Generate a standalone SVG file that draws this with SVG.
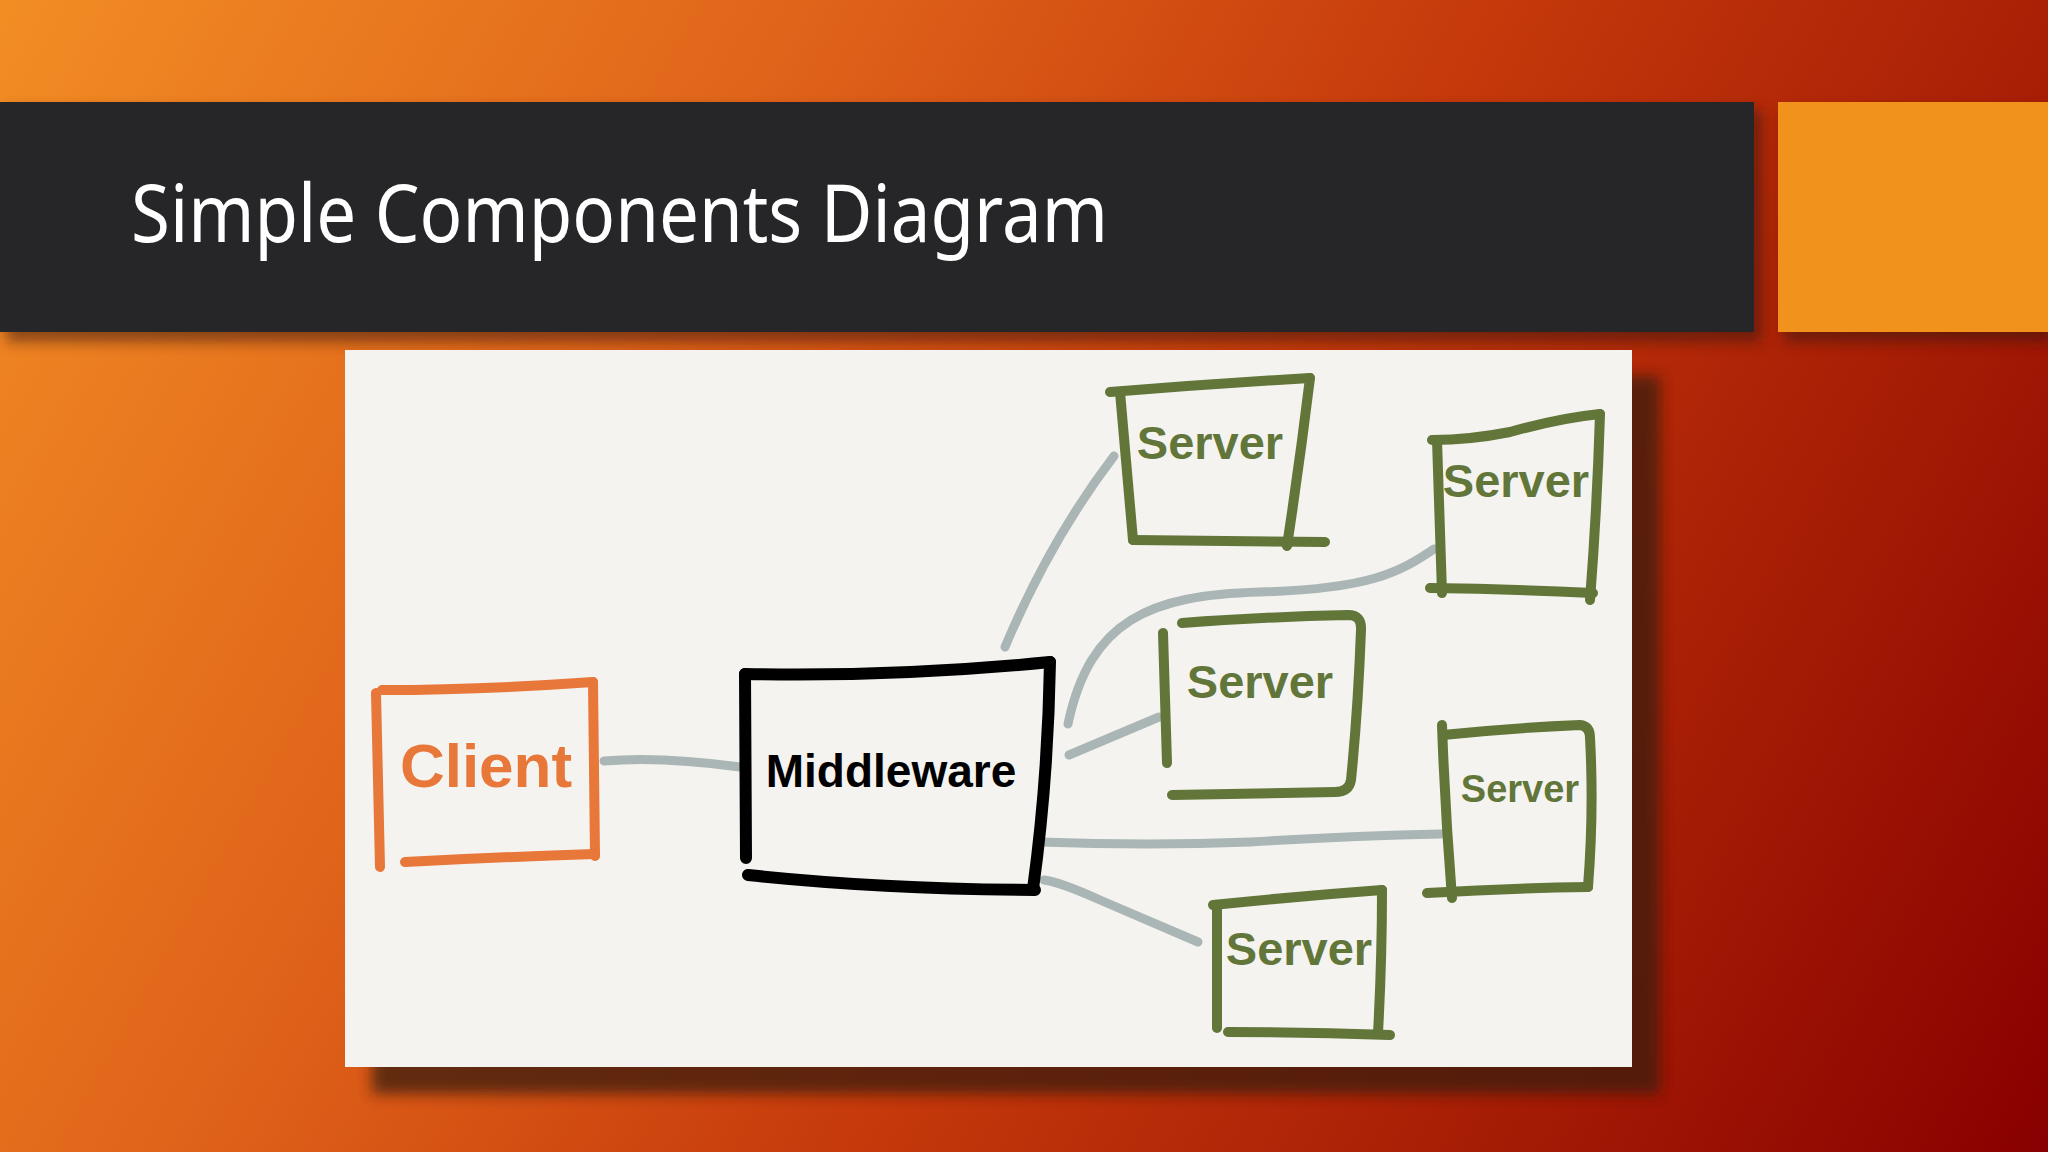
<svg xmlns="http://www.w3.org/2000/svg" width="2048" height="1152" viewBox="0 0 2048 1152">
  <defs>
    <linearGradient id="bg" gradientUnits="userSpaceOnUse" x1="0" y1="0" x2="2048" y2="1152">
      <stop offset="0" stop-color="#F28D24"/>
      <stop offset="0.3" stop-color="#E0641A"/>
      <stop offset="0.55" stop-color="#C63A0B"/>
      <stop offset="0.8" stop-color="#A41B05"/>
      <stop offset="1" stop-color="#880000"/>
    </linearGradient>
    <filter id="blur" x="-10%" y="-10%" width="120%" height="120%">
      <feGaussianBlur stdDeviation="7"/>
    </filter>
    <style>
      .box { fill: none; stroke-linecap: round; stroke-linejoin: round; }
      .srv { stroke: #62763A; stroke-width: 10; }
      .cli { stroke: #E8773A; stroke-width: 10; }
      .mid { stroke: #000000; stroke-width: 12; }
      .conn { fill: none; stroke: #A9B6B5; stroke-width: 9; stroke-linecap: round; }
      .lbl { font-family: "Liberation Sans", Arial, sans-serif; font-weight: bold; }
      .srvt { fill: #62763A; font-size: 47px; }
    </style>
  </defs>

  <!-- background -->
  <rect x="0" y="0" width="2048" height="1152" fill="url(#bg)"/>

  <!-- title bar and accent -->
  <rect x="6" y="110" width="1756" height="232" fill="#3A1208" opacity="0.55" filter="url(#blur)"/>
  <rect x="1784" y="110" width="270" height="232" fill="#3A1208" opacity="0.55" filter="url(#blur)"/>
  <rect x="0" y="102" width="1754" height="230" fill="#262528"/>
  <rect x="1778" y="102" width="270" height="230" fill="#F0921C"/>
  <text x="131" y="242" font-family="'Noto Sans', 'Open Sans', sans-serif" font-size="80" fill="#FFFFFF" textLength="977" lengthAdjust="spacingAndGlyphs">Simple Components Diagram</text>

  <!-- picture panel -->
  <rect x="372" y="376" width="1288" height="718" fill="#3A1A10" opacity="0.75" filter="url(#blur)"/>
  <rect x="345" y="350" width="1287" height="717" fill="#F5F3F0"/>

  <!-- connectors -->
  <g id="connectors">
    <path class="conn" d="M604,761 Q660,756 740,767"/>
    <path class="conn" d="M1005,647 Q1050,540 1114,456"/>
    <path class="conn" d="M1068,724 C1090,620 1150,595 1260,592 S1400,572 1434,549"/>
    <path class="conn" d="M1069,755 L1159,717"/>
    <path class="conn" d="M1040,842 Q1150,846 1250,842 Q1350,836 1441,834"/>
    <path class="conn" d="M1044,880 Q1060,882 1100,900 L1198,942"/>
  </g>

  <!-- client -->
  <g id="client">
    <path class="box cli" d="M376,693 L380,867"/>
    <path class="box cli" d="M382,690 Q480,690 593,682"/>
    <path class="box cli" d="M593,682 Q594,770 595,856"/>
    <path class="box cli" d="M405,862 Q500,857 595,854"/>
    <text class="lbl" x="486" y="787" font-size="62" fill="#E8773A" text-anchor="middle">Client</text>
  </g>

  <!-- middleware -->
  <g id="middleware">
    <path class="box mid" d="M745,674 L746,858"/>
    <path class="box mid" d="M745,674 Q900,677 1050,662"/>
    <path class="box mid" d="M1050,662 Q1048,780 1033,889"/>
    <path class="box mid" d="M748,875 Q880,889 1035,890"/>
    <text class="lbl" x="891" y="787" font-size="46" fill="#000000" text-anchor="middle">Middleware</text>
  </g>

  <!-- server 1 -->
  <g id="server1">
    <path class="box srv" d="M1110,392 Q1210,384 1310,378"/>
    <path class="box srv" d="M1120,392 L1133,540"/>
    <path class="box srv" d="M1310,378 Q1300,460 1287,546"/>
    <path class="box srv" d="M1133,540 L1325,542"/>
    <text class="lbl srvt" x="1210" y="459" text-anchor="middle">Server</text>
  </g>

  <!-- server 2 -->
  <g id="server2">
    <path class="box srv" d="M1432,440 Q1470,440 1510,432 Q1560,418 1600,414"/>
    <path class="box srv" d="M1437,440 L1442,593"/>
    <path class="box srv" d="M1600,414 Q1597,510 1590,600"/>
    <path class="box srv" d="M1430,588 Q1510,589 1593,593"/>
    <text class="lbl srvt" x="1516" y="497" text-anchor="middle">Server</text>
  </g>

  <!-- server 3 -->
  <g id="server3">
    <path class="box srv" d="M1163,633 L1167,763"/>
    <path class="box srv" d="M1182,623 Q1260,617 1348,615 Q1362,615 1361,630 Q1358,710 1351,780 Q1349,792 1335,792 L1172,795"/>
    <text class="lbl srvt" x="1260" y="698" text-anchor="middle">Server</text>
  </g>

  <!-- server 4 -->
  <g id="server4">
    <path class="box srv" d="M1442,725 Q1445,810 1452,898"/>
    <path class="box srv" d="M1443,735 Q1510,728 1580,725 Q1590,726 1590,738 Q1594,810 1588,887"/>
    <path class="box srv" d="M1427,893 Q1510,888 1588,887"/>
    <text class="lbl" x="1520" y="802" font-size="38" fill="#62763A" text-anchor="middle">Server</text>
  </g>

  <!-- server 5 -->
  <g id="server5">
    <path class="box srv" d="M1213,905 Q1300,896 1382,890"/>
    <path class="box srv" d="M1217,905 L1217,1028"/>
    <path class="box srv" d="M1382,890 Q1382,960 1378,1033"/>
    <path class="box srv" d="M1228,1032 Q1310,1032 1390,1035"/>
    <text class="lbl srvt" x="1299" y="965" text-anchor="middle">Server</text>
  </g>
</svg>
